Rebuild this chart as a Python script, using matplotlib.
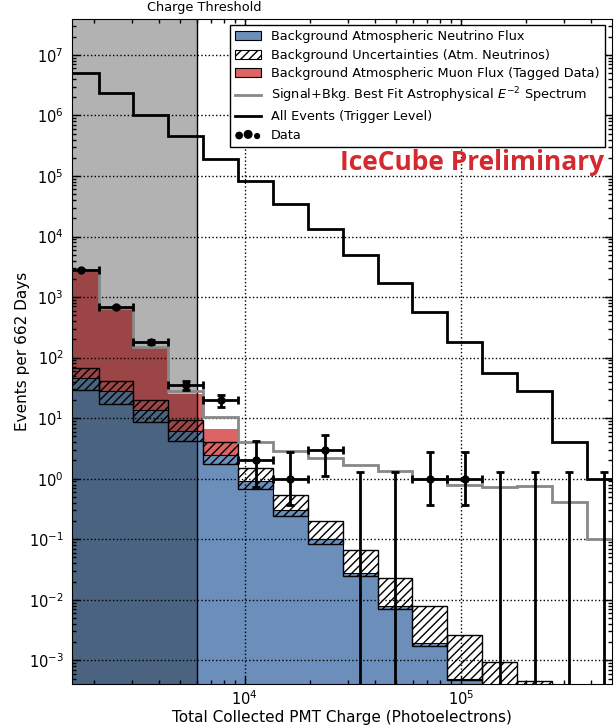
import numpy as np
import matplotlib
matplotlib.use("Agg")
import matplotlib.pyplot as plt
from matplotlib.patches import Patch
from matplotlib.lines import Line2D
from matplotlib.ticker import NullFormatter, FixedLocator
import matplotlib.transforms as mtransforms

# ---------------- data ----------------
bin_edges = [1450, 2104, 3051, 4426, 6420, 9311, 13505, 19588, 28413, 41210,
             59770, 86700, 125750, 182390, 264550, 383700, 556550]

all_events = [5.1e6, 2.34e6, 1.02e6, 4.5e5, 1.92e5, 8.2e4, 3.4e4, 1.33e4,
              5.0e3, 1.71e3, 574, 182, 56, 28, 4.06, 1.0]

best_fit = [2790, 650, 148, 27.8, 10.3, 4.0, 2.85, 2.2,
            1.7, 1.32, 0.99, 0.80, 0.72, 0.77, 0.41, 0.10]

atm_nu = [46, 27.6, 13.4, 6.1, 2.42, 0.93, 0.30, 0.10,
          0.028, 0.0078, 0.0019, 0.0005, 0.00011, 0.00003, 1e-5, 3e-6]
atm_nu_lo = [29, 17, 8.7, 4.2, 1.74, 0.68, 0.245, 0.085,
             0.025, 0.0071, 0.0017, 0.00047, 0.0001, 0.00003, 1e-5, 3e-6]
atm_nu_hi = [67, 41, 20, 9.5, 4.0, 1.51, 0.54, 0.20,
             0.067, 0.023, 0.0078, 0.0026, 0.00095, 0.00045, 2e-4, 5e-5]

atm_mu = [2704, 609, 132, 18.5, 4.23, 0, 0, 0, 0, 0, 0, 0, 0, 0, 0, 0]

data_counts = [2820, 676, 179, 35, 20, 2, 1, 3, 0, 0, 1, 1, 0, 0, 0, 0]
data_lo = [2767, 650, 166, 29.1, 15.5, 0.74, 0.37, 1.10, 0, 0, 0.37, 0.37, 0, 0, 0, 0]
data_hi = [2873, 702, 192, 40.9, 24.5, 4.25, 2.75, 5.30, 1.29, 1.29, 2.75, 2.75, 1.29, 1.29, 1.29, 1.29]

x_major_ticks = [1e4, 1e5]
y_major_ticks = [1e-3, 1e-2, 1e-1, 1e0, 1e1, 1e2, 1e3, 1e4, 1e5, 1e6, 1e7]
charge_threshold = 6000
x_limits = (1585, 500000)
y_limits = (4.06e-4, 4.0e7)

# ---------------- styling ----------------
blue = '#6b8fba'
red = '#de6365'
gray_line = '#888888'

plt.rcParams['font.family'] = ['DejaVu Sans']
plt.rcParams['hatch.linewidth'] = 1.0

fig = plt.figure(figsize=(6.14, 7.28), dpi=100)
ax = fig.add_axes([72 / 614, 44 / 728, 539.7 / 614, 665.5 / 728])
ax.set_xscale('log')
ax.set_yscale('log')

edges = np.array(bin_edges, dtype=float)
nu = np.array(atm_nu)
nu_lo = np.array(atm_nu_lo)
nu_hi = np.array(atm_nu_hi)
mu = np.array(atm_mu)
total = nu + mu
widths = np.diff(edges)

# neutrino fill
ax.stairs(nu, edges, baseline=1e-9, fill=True, facecolor=blue,
          edgecolor='none', zorder=1)
ax.stairs(nu, edges, baseline=None, color='k', lw=0.8, zorder=1.2)
# muon fill (stacked)
has_mu = mu > 0
mu_vals = np.where(has_mu, total, nu)
ax.stairs(mu_vals, edges, baseline=nu, fill=True, facecolor=red,
          edgecolor='none', zorder=1.1)
# uncertainty hatch
ax.bar(edges[:-1], nu_hi - nu_lo, width=widths, bottom=nu_lo, align='edge',
       fill=False, hatch='////', edgecolor='k', lw=1.0, zorder=1.5)

# shaded region below threshold
ax.axvspan(x_limits[0] / 2, charge_threshold, facecolor='k', alpha=0.30,
           edgecolor='none', zorder=2)
ax.axvline(charge_threshold, color='k', lw=1.0, zorder=2.1)

# best fit and all events
ax.stairs(best_fit, edges, baseline=None, color=gray_line, lw=2, zorder=3)
ax.stairs(all_events, edges, baseline=None, color='k', lw=2, zorder=3.2)

# data
centers = np.sqrt(edges[:-1] * edges[1:])
counts = np.array(data_counts, dtype=float)
ax.errorbar(centers, counts,
            xerr=[centers - edges[:-1], edges[1:] - centers],
            yerr=[counts - np.array(data_lo), np.array(data_hi) - counts],
            fmt='o', color='k', ms=5, lw=2, capsize=3, capthick=2,
            zorder=4)

ax.set_xlim(*x_limits)
ax.set_ylim(*y_limits)


def minor_ticks(lo, hi):
    decades = np.arange(np.floor(np.log10(lo)), np.ceil(np.log10(hi)) + 1)
    vals = np.array([m * 10.0 ** d for d in decades for m in range(2, 10)])
    return vals[(vals > lo) & (vals < hi)]


ax.yaxis.set_major_locator(FixedLocator(y_major_ticks))
ax.yaxis.set_minor_locator(FixedLocator(minor_ticks(*y_limits)))
ax.yaxis.set_minor_formatter(NullFormatter())
ax.xaxis.set_major_locator(FixedLocator(x_major_ticks))
ax.xaxis.set_minor_locator(FixedLocator(minor_ticks(*x_limits)))
ax.xaxis.set_minor_formatter(NullFormatter())

ax.tick_params(which='both', direction='in', top=True, right=True,
               labelsize=10.5, width=1)
ax.tick_params(which='major', length=6)
ax.tick_params(axis='x', which='major', pad=4)
ax.tick_params(axis='y', which='major', pad=6)
ax.tick_params(which='minor', length=3)

ax.grid(True, which='major', linestyle=':', color='k', lw=1, zorder=2.5)
ax.set_axisbelow(False)

ax.set_xlabel('Total Collected PMT Charge (Photoelectrons)', fontsize=11, labelpad=1)
ax.set_ylabel('Events per 662 Days', fontsize=11, labelpad=-1)

# threshold label
trans = mtransforms.blended_transform_factory(ax.transData, ax.transAxes)
ax.text(6500, 1.007, 'Charge Threshold', transform=trans, ha='center',
        va='bottom', fontsize=9.3)

# legend
scat = ax.scatter([np.nan, np.nan], [np.nan, np.nan], s=[12, 30], c='k')
handles = [
    Patch(facecolor=blue, edgecolor='k', lw=0.8),
    Patch(facecolor='white', edgecolor='k', hatch='////', lw=0.8),
    Patch(facecolor=red, edgecolor='k', lw=0.8),
    Line2D([], [], color=gray_line, lw=2),
    Line2D([], [], color='k', lw=2),
    scat,
]
labels = [
    'Background Atmospheric Neutrino Flux',
    'Background Uncertainties (Atm. Neutrinos)',
    'Background Atmospheric Muon Flux (Tagged Data)',
    r'Signal+Bkg. Best Fit Astrophysical $E^{-2}$ Spectrum',
    'All Events (Trigger Level)',
    'Data',
]
leg = ax.legend(handles, labels, loc='upper right',
                bbox_to_anchor=(0.9876, 0.990), borderaxespad=0,
                fontsize=9.25, fancybox=False, framealpha=1,
                edgecolor='k', scatterpoints=3, labelspacing=0.42,
                handlelength=2.0, borderpad=0.4)
leg.get_frame().set_linewidth(1.0)
leg.set_zorder(10)

ax.text(0.986, 0.772, 'IceCube Preliminary', transform=ax.transAxes,
        ha='right', va='baseline', fontsize=19, fontweight='bold',
        family='Open Sans', color='#d42a2f', zorder=11)

fig.savefig('out.png', dpi=100)
